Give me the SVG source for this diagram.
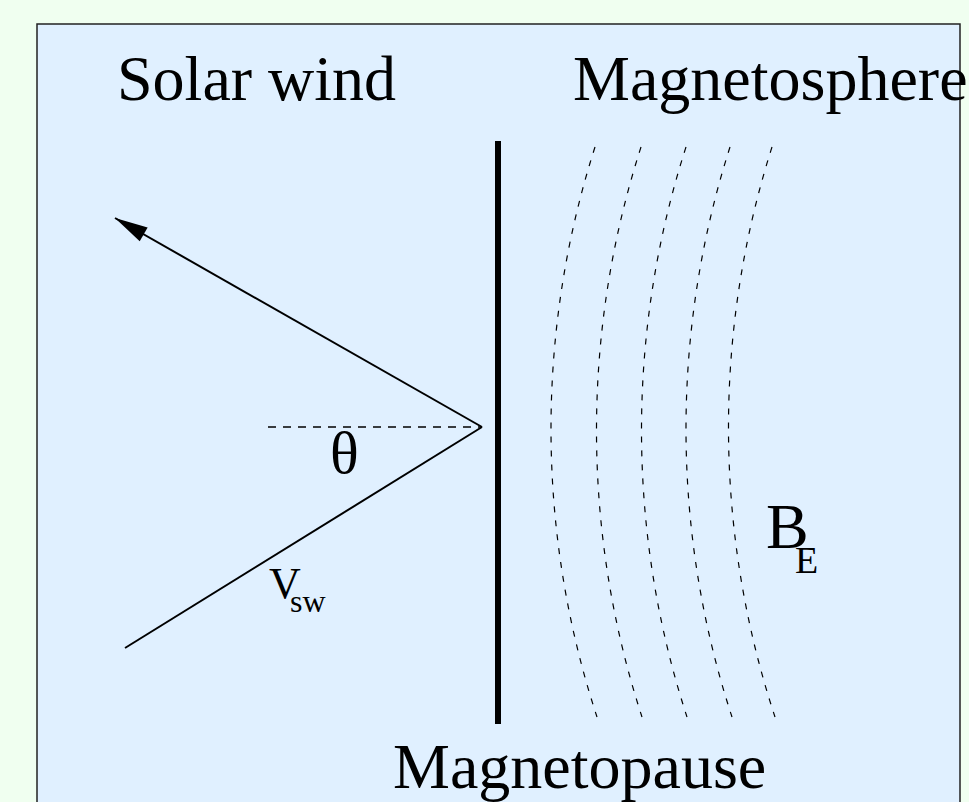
<svg xmlns="http://www.w3.org/2000/svg" width="969" height="802" viewBox="0 0 969 802">
<style>
.lbl{font-family:"Liberation Serif","Times New Roman",serif;fill:#000}
.big{font-size:64px}
.fl{fill:none;stroke:#000;stroke-width:2}
.arc{fill:none;stroke:#000;stroke-width:1.2;stroke-dasharray:6 8}
</style>
<defs>
<marker id="ah" markerUnits="userSpaceOnUse" markerWidth="40" markerHeight="20" refX="33" refY="0" viewBox="0 -10 40 20" orient="auto" overflow="visible">
<path d="M33,0 L0,-8 L0,8 Z" fill="#000"/>
</marker>
</defs>
<rect x="0" y="0" width="969" height="802" fill="#f0fff0"/>
<rect x="37" y="24" width="923" height="800" fill="#e0f0ff" stroke="#222" stroke-width="1.5"/>
<g id="labels">
<text class="lbl big" x="117" y="100">Solar wind</text>
<text class="lbl big" x="573" y="100">Magnetosphere</text>
<text class="lbl big" x="393" y="788">Magnetopause</text>
<text class="lbl" x="330" y="473" font-size="60">θ</text>
<text class="lbl" x="269" y="598" font-size="44">V</text>
<text class="lbl" x="290" y="612" font-size="32">sw</text>
<text class="lbl big" x="766" y="548">B</text>
<text class="lbl" x="795" y="573" font-size="38">E</text>
</g>
<g id="magnetopause">
<line x1="498" y1="141" x2="498" y2="724" stroke="#000" stroke-width="6"/>
</g>
<g id="field-lines">
<path class="arc" d="M595,147 A925,925 0 0 0 597,717"/>
<path class="arc" d="M641,147 A925,925 0 0 0 642,717"/>
<path class="arc" d="M686,147 A925,925 0 0 0 687,717"/>
<path class="arc" d="M730,147 A925,925 0 0 0 732,717"/>
<path class="arc" d="M772,147 A925,925 0 0 0 775,717"/>
</g>
<g id="connectors">
<line x1="268" y1="427" x2="482" y2="427" stroke="#000" stroke-width="1.6" stroke-dasharray="8 7"/>
<line class="fl" x1="125" y1="648" x2="482" y2="427"/>
<line class="fl" x1="482" y1="427" x2="115" y2="218" marker-end="url(#ah)"/>
</g>
</svg>
